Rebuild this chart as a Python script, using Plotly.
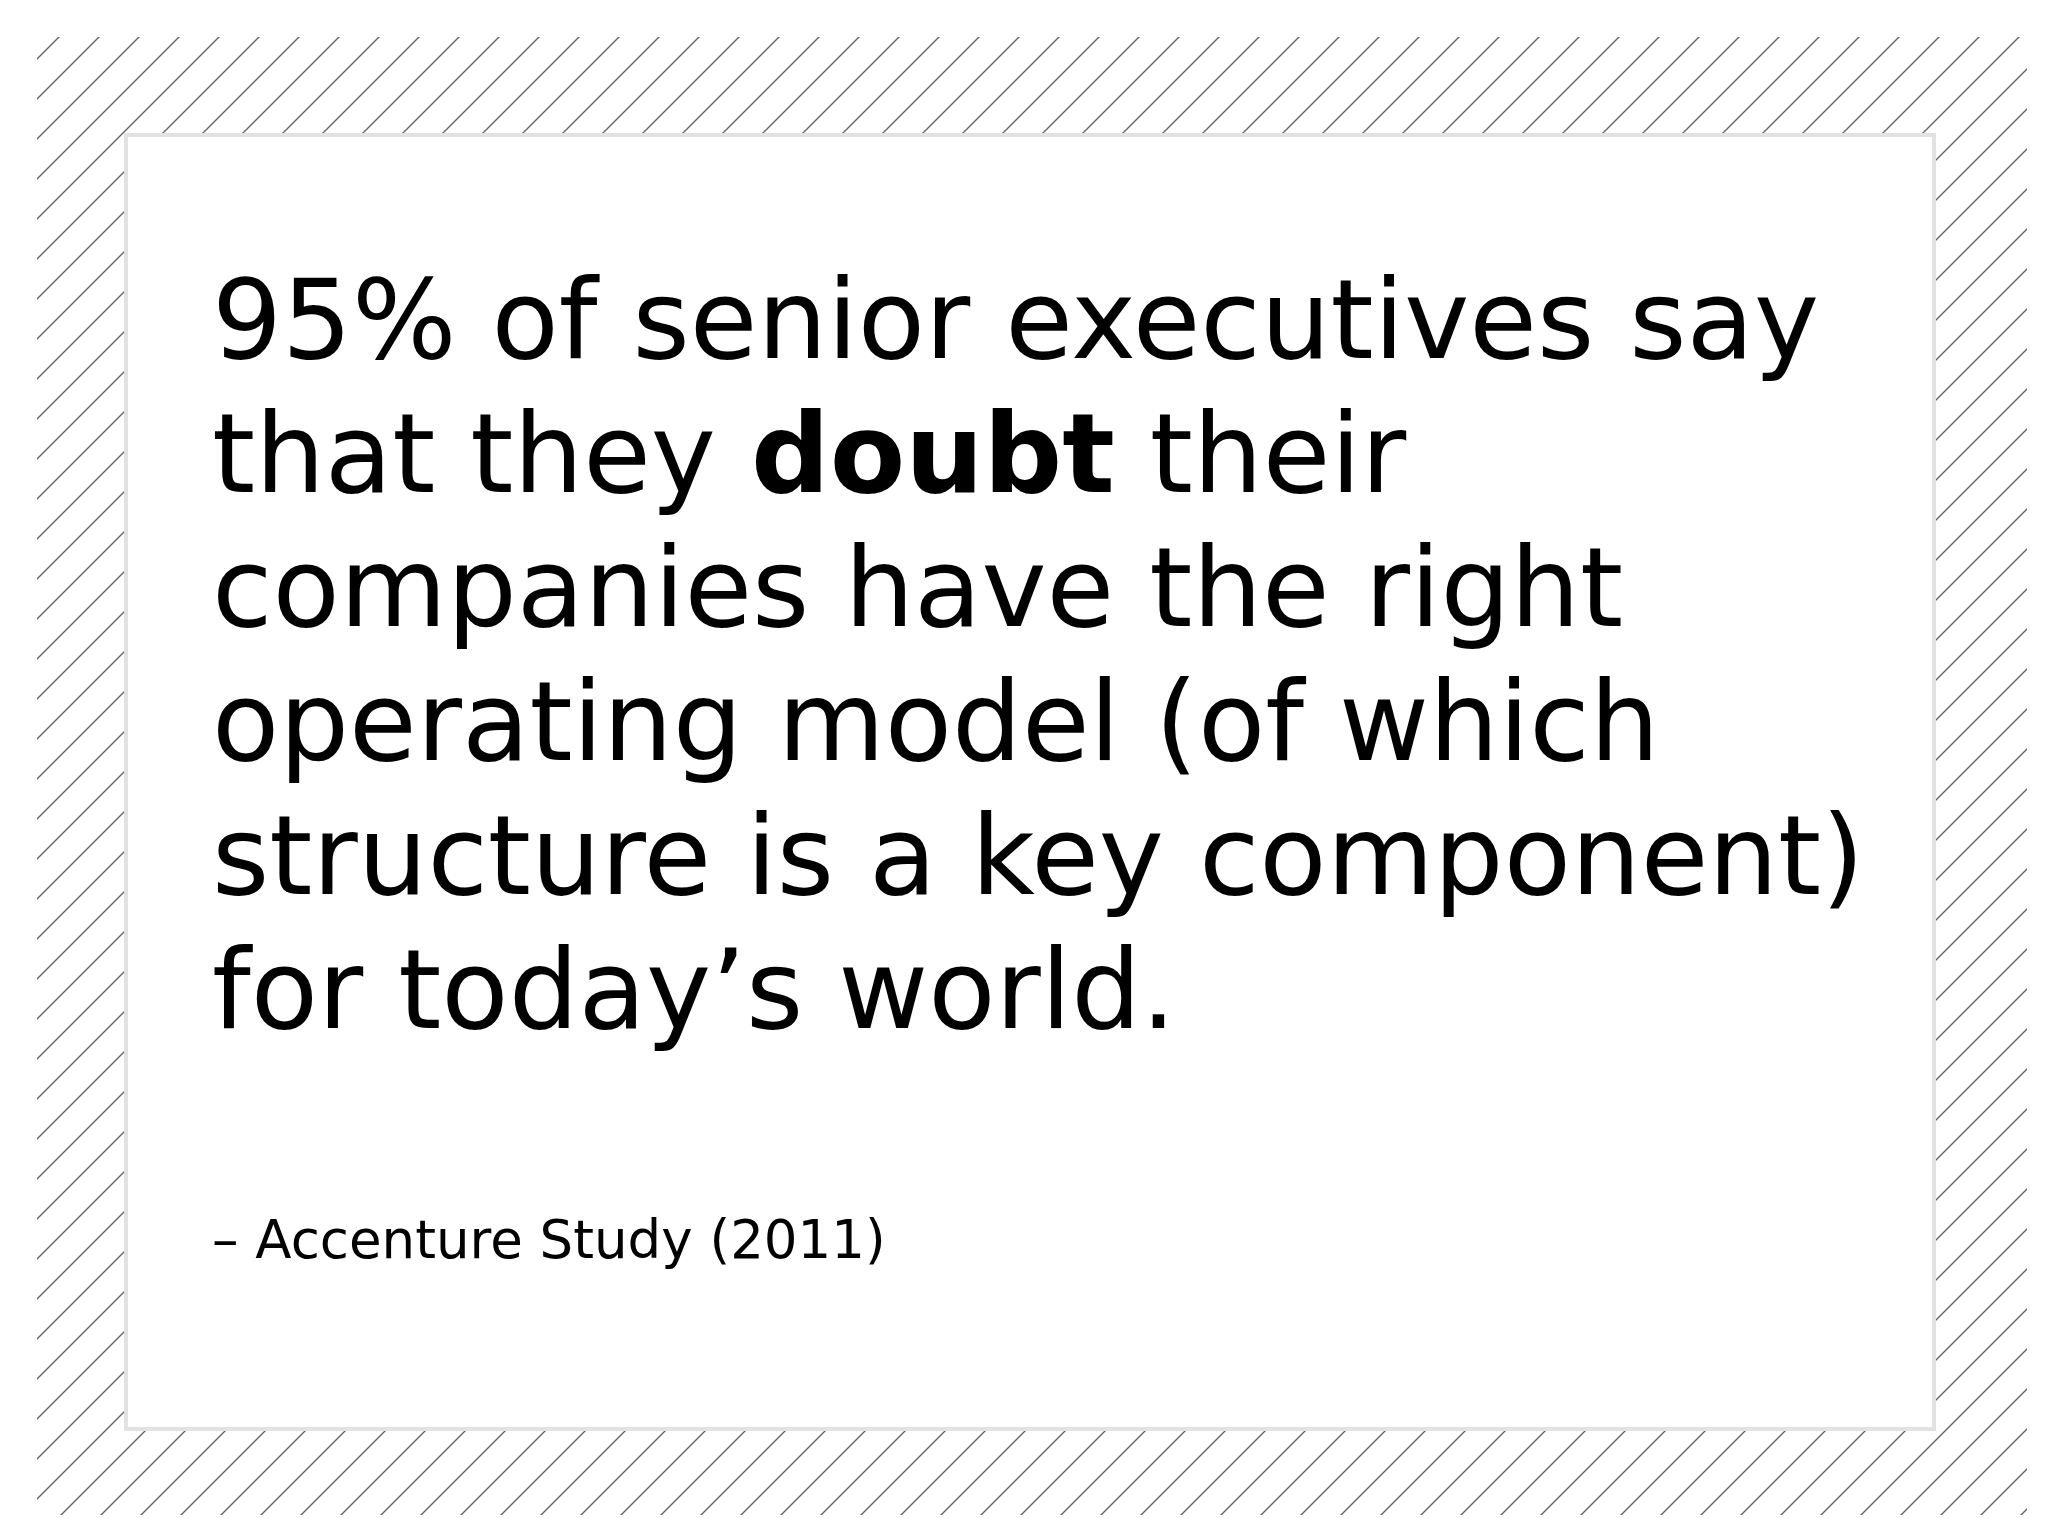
import plotly.graph_objects as go

quote_lines = [
    "95% of senior executives say",
    "that they <b>doubt</b> their",
    "companies have the right",
    "operating model (of which",
    "structure is a key component)",
    "for today’s world.",
]
attribution = "– Accenture Study (2011)"

W, H = 2048, 1536
fig = go.Figure()
shapes = []
step = 40
for c in range(-H, W + H, step):
    shapes.append(dict(type="line", xref="x", yref="y", x0=c, y0=H, x1=c + H, y1=0,
                       line=dict(color="#666666", width=1.4), layer="below"))
# white outer margin (clips the hatch)
m = 29
for r in [(0, 0, W, m), (0, H - m, W, H), (0, 0, m, H), (W - m, 0, W, H)]:
    shapes.append(dict(type="rect", xref="x", yref="y", x0=r[0], y0=r[1], x1=r[2], y1=r[3],
                       fillcolor="#ffffff", line=dict(width=0), layer="below"))
shapes.append(dict(type="rect", xref="x", yref="y", x0=118, y0=127, x1=1926, y1=1421,
                   fillcolor="#ffffff", line=dict(color="#e2e2e2", width=4), layer="below"))
fig.update_layout(shapes=shapes)

font = "DejaVu Sans, Verdana, sans-serif"
anns = []
for i, t in enumerate(quote_lines):
    anns.append(dict(x=202, y=312 + 134 * i, xref="x", yref="y", text=t, showarrow=False,
                     xanchor="left", yanchor="middle", font=dict(family=font, size=110, color="#000")))
anns.append(dict(x=202, y=1231, xref="x", yref="y", text=attribution, showarrow=False,
                 xanchor="left", yanchor="middle", font=dict(family=font, size=53, color="#000")))
fig.update_layout(annotations=anns, width=W, height=H, margin=dict(l=0, r=0, t=0, b=0),
                  paper_bgcolor="white", plot_bgcolor="white", showlegend=False,
                  xaxis=dict(range=[0, W], visible=False, fixedrange=True),
                  yaxis=dict(range=[H, 0], visible=False, fixedrange=True))
fig.write_html("out.html")
